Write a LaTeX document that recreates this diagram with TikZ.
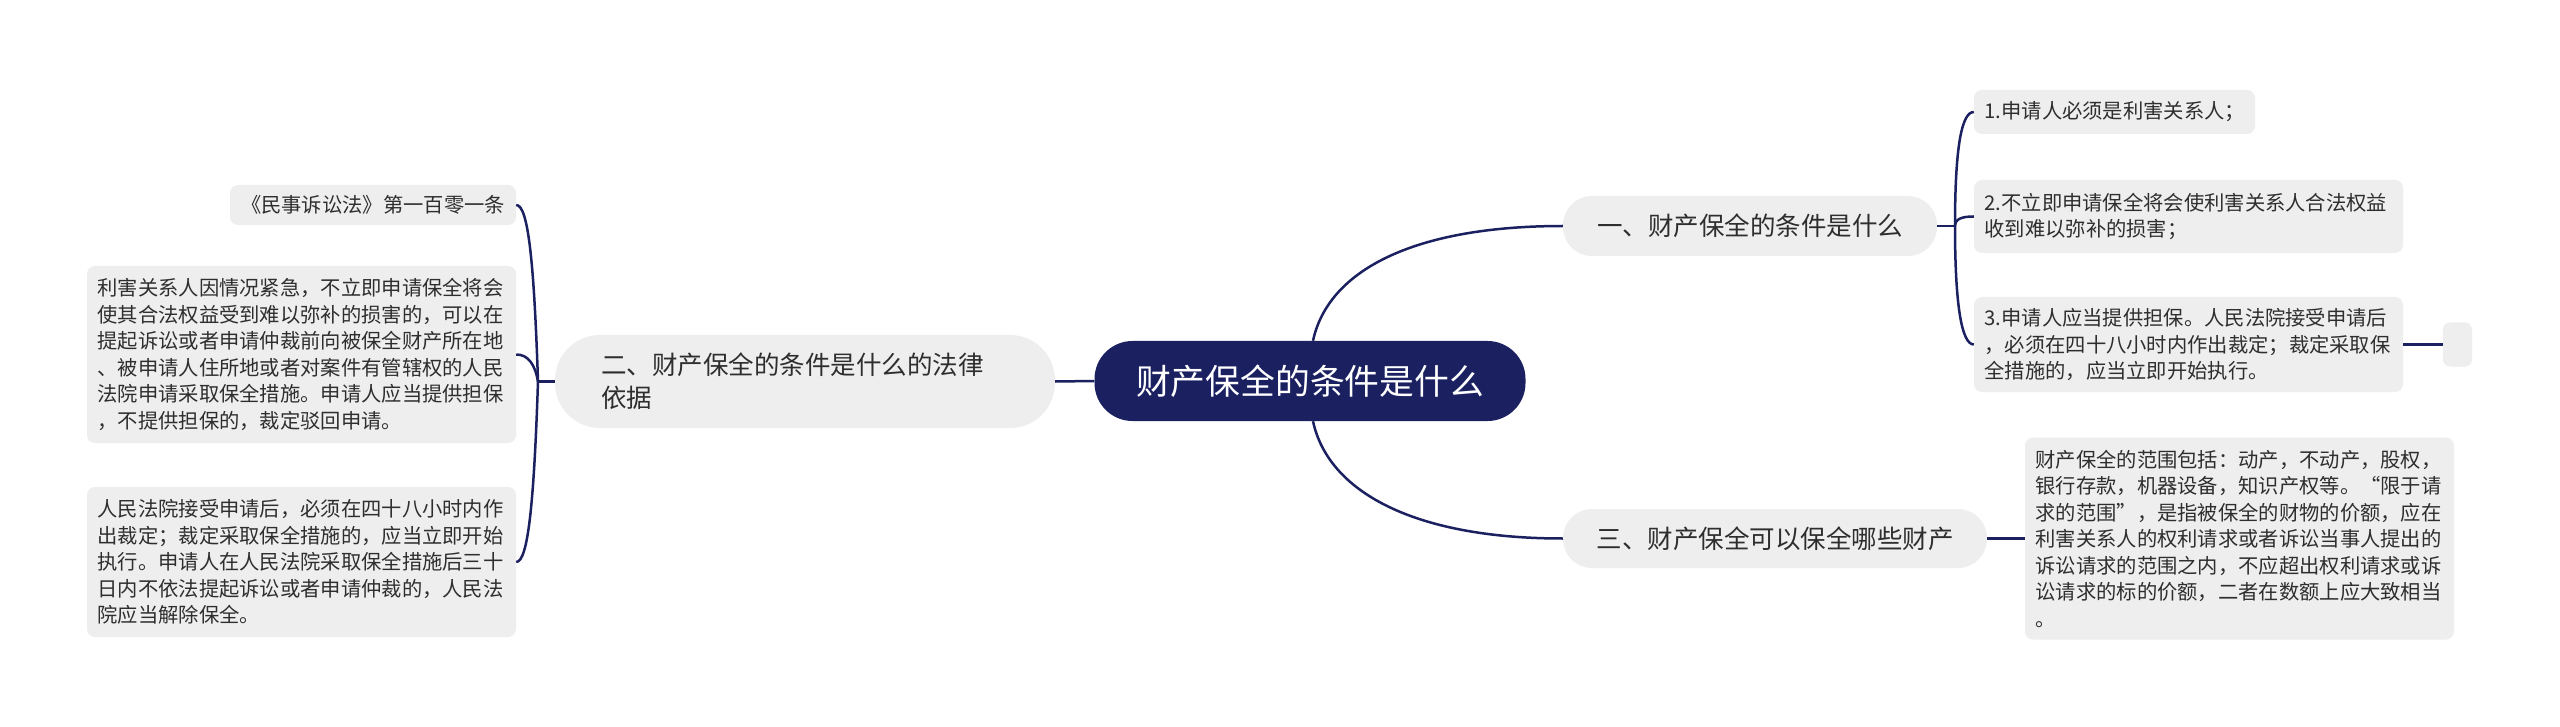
\documentclass[tikz,border=0pt]{standalone}
\usepackage{fontspec}
\setmainfont{Noto Sans CJK SC}
\usetikzlibrary{calc}
\definecolor{navy}{HTML}{1B2160}
\definecolor{boxgray}{HTML}{EEEEEE}
\definecolor{txt}{HTML}{2E2E2E}
\begin{document}
\begin{tikzpicture}[x=1pt,y=-1pt,
  conn/.style={draw=navy, line width=2.5pt},
  root/.style={fill=navy, text=white, rounded corners=38pt, minimum width=431pt, minimum height=80pt,
    inner sep=0pt, font=\fontsize{34.8}{40}\selectfont},
  topic/.style={fill=boxgray, text=txt, inner sep=0pt, font=\fontsize{25.5}{33}\selectfont},
  leaf/.style={fill=boxgray, text=txt, rounded corners=8pt, inner xsep=10.5pt, inner ysep=0pt,
    align=left, font=\fontsize{20.3}{26.5}\selectfont},
  wide/.style={text width=408pt, minimum width=429pt}
]
\useasboundingbox (0,0) rectangle (2560,727);
\fill[white] (0,0) rectangle (2560,727);

% root
\node[root] (C) at (1310,381) {财产保全的条件是什么};

% topics
\node[topic, align=left, text width=408pt, inner xsep=46pt, minimum width=500pt, minimum height=93pt,
  rounded corners=45pt] (n2) at (805,381.5) {二、财产保全的条件是什么的法律\\依据};
\node[topic, minimum width=374pt, minimum height=60pt, rounded corners=29pt] (n1) at (1750,226) {一、财产保全的条件是什么};
\node[topic, minimum width=424pt, minimum height=59pt, rounded corners=29pt] (n3) at (1775,538.5) {三、财产保全可以保全哪些财产};

% left leaves
\node[leaf, align=center, text width=265pt, minimum width=286pt, minimum height=40pt] (L1) at (373,205) {《民事诉讼法》第一百零一条};
\node[leaf, wide, minimum height=177pt] (L2) at (301.5,354.5) {利害关系人因情况紧急，不立即申请保全将会\\使其合法权益受到难以弥补的损害的，可以在\\提起诉讼或者申请仲裁前向被保全财产所在地\\、被申请人住所地或者对案件有管辖权的人民\\法院申请采取保全措施。申请人应当提供担保\\，不提供担保的，裁定驳回申请。};
\node[leaf, wide, minimum height=150pt] (L3) at (301.5,562) {人民法院接受申请后，必须在四十八小时内作\\出裁定；裁定采取保全措施的，应当立即开始\\执行。申请人在人民法院采取保全措施后三十\\日内不依法提起诉讼或者申请仲裁的，人民法\\院应当解除保全。};

% right leaves
\node[leaf, text width=260pt, minimum width=281pt, minimum height=44pt] (R1) at (2114.5,112) {1.申请人必须是利害关系人；};
\node[leaf, wide, minimum height=73pt] (R2) at (2188.5,216.5) {2.不立即申请保全将会使利害关系人合法权益\\收到难以弥补的损害；};
\node[leaf, wide, minimum height=95pt] (R3) at (2188.5,344.5) {3.申请人应当提供担保。人民法院接受申请后\\，必须在四十八小时内作出裁定；裁定采取保\\全措施的，应当立即开始执行。};
\node[fill=boxgray, rounded corners=7pt, minimum width=29pt, minimum height=44pt, inner sep=0pt] (T) at (2457.5,344.5) {};
\node[leaf, wide, minimum height=202pt] (R4) at (2239.5,538.5) {财产保全的范围包括：动产，不动产，股权，\\银行存款，机器设备，知识产权等。“限于请\\求的范围”，是指被保全的财物的价额，应在\\利害关系人的权利请求或者诉讼当事人提出的\\诉讼请求的范围之内，不应超出权利请求或诉\\讼请求的标的价额，二者在数额上应大致相当\\。};

% connectors
\draw[conn] (C.west) -- (n2.east);
\draw[conn] ($(C.north)+(3,0)$) .. controls +(15,-70) and +(-150,0) .. (n1.west);
\draw[conn] ($(C.south)+(3,0)$) .. controls +(15,70) and +(-150,0) .. (n3.west);

\coordinate (J2) at (538,381.5);
\draw[conn] (n2.west) -- (J2);
\draw[conn] (J2) .. controls +(-4,-120) and +(12,0) .. (L1.east);
\draw[conn] (J2) .. controls +(-3,-17) and +(12,0) .. (L2.east);
\draw[conn] (J2) .. controls +(-4,120) and +(12,0) .. (L3.east);

\coordinate (J1) at (1955,226);
\draw[conn] (n1.east) -- (J1);
\draw[conn] (J1) .. controls +(0,-80) and +(-12,0) .. (R1.west);
\draw[conn] (J1) .. controls +(0,-7) and +(-12,0) .. (R2.west);
\draw[conn] (J1) .. controls +(0,80) and +(-12,0) .. (R3.west);
\draw[conn] (R3.east) -- (T.west);

\draw[conn] (n3.east) -- (R4.west);
\end{tikzpicture}
\end{document}
